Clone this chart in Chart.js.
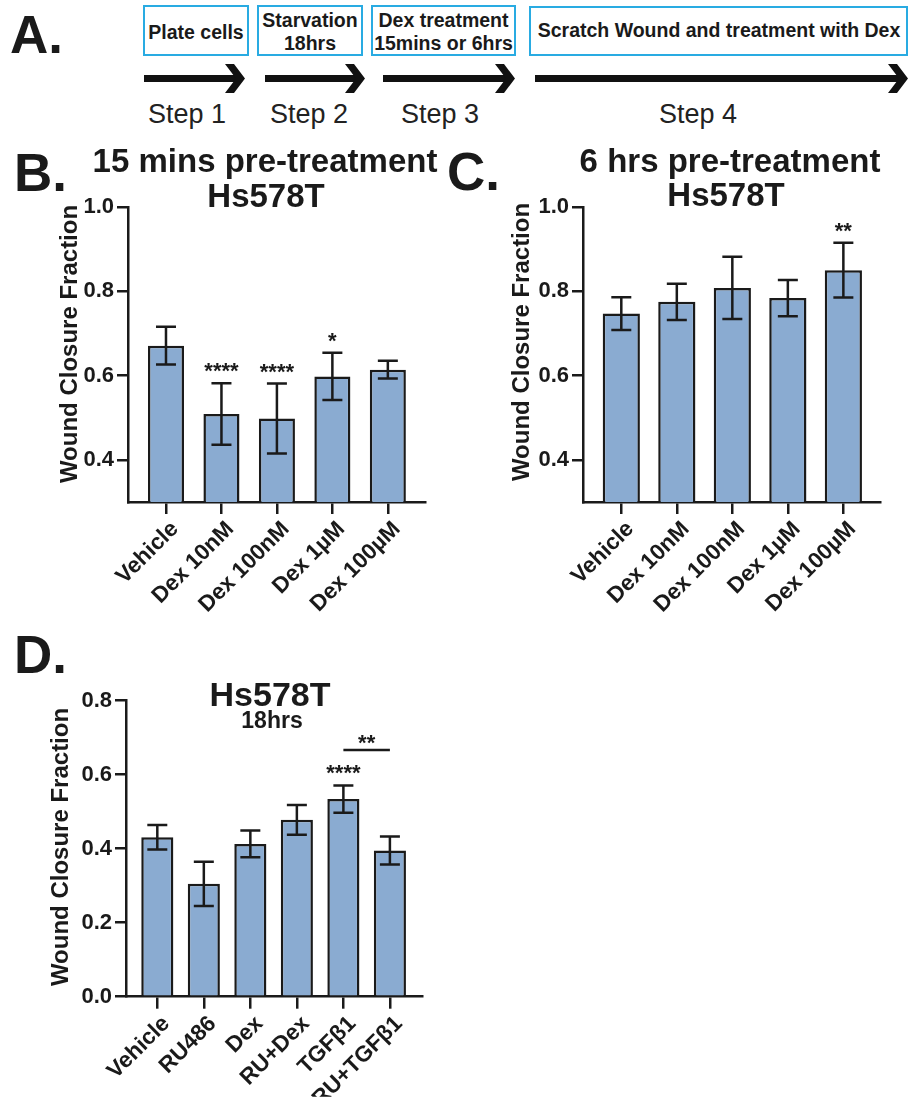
<!DOCTYPE html>
<html>
<head>
<meta charset="utf-8">
<script src="https://cdn.jsdelivr.net/npm/chart.js@4.4.1/dist/chart.umd.min.js"></script>
<style>
html,body{margin:0;padding:0;background:#fff;}
#page{position:relative;width:910px;height:1099px;overflow:hidden;background:#fff;font-family:'Liberation Sans',Arial,sans-serif;}
canvas{position:absolute;}
.plabel{position:absolute;font-weight:bold;font-size:53px;line-height:53px;color:#1a1a1a;z-index:5;}
svg{position:absolute;left:0;top:0;}
</style>
</head>
<body>
<div id="page">
<svg width="910" height="135" font-family="'Liberation Sans', Arial, sans-serif">
  <g fill="none" stroke="#29ABE2" stroke-width="2">
    <rect x="144" y="6" width="104" height="49"/>
    <rect x="258" y="6" width="104" height="49"/>
    <rect x="372" y="6" width="143" height="49"/>
    <rect x="530" y="7" width="377" height="48"/>
  </g>
  <g fill="#1a1a1a" font-weight="bold" font-size="19.5" text-anchor="middle">
    <text x="196" y="39">Plate cells</text>
    <text x="310" y="27">Starvation</text>
    <text x="310" y="50">18hrs</text>
    <text x="443.5" y="27">Dex treatment</text>
    <text x="443.5" y="50">15mins or 6hrs</text>
    <text x="719" y="37">Scratch Wound and treatment with Dex</text>
  </g>
  <g fill="#111">
    <rect x="144" y="75" width="92" height="7"/>
    <polygon points="225,64 234,64 245,78.5 234,93 225,93 236,78.5"/>
    <rect x="265" y="75" width="92" height="7"/>
    <polygon points="345,64 354,64 365,78.5 354,93 345,93 356,78.5"/>
    <rect x="383" y="75" width="124" height="7"/>
    <polygon points="495,64 504,64 515,78.5 504,93 495,93 506,78.5"/>
    <rect x="535" y="75" width="365" height="7"/>
    <polygon points="888,64 897,64 908,78.5 897,93 888,93 899,78.5"/>
  </g>
  <g fill="#222" font-size="27" text-anchor="middle">
    <text x="187" y="123">Step 1</text>
    <text x="309" y="123">Step 2</text>
    <text x="440" y="123">Step 3</text>
    <text x="698" y="123">Step 4</text>
  </g>
</svg>

<canvas id="cB" width="455" height="520" style="left:0px;top:130px"></canvas>
<canvas id="cC" width="455" height="520" style="left:455px;top:130px"></canvas>
<canvas id="cD" width="455" height="459" style="left:0px;top:640px"></canvas>

<div class="plabel" style="left:10px;top:8px">A.</div>
<div class="plabel" style="left:14px;top:146px">B.</div>
<div class="plabel" style="left:447px;top:145px">C.</div>
<div class="plabel" style="left:14px;top:628px">D.</div>
</div>

<script>
// ---------------- data ----------------
const labelsB = ['Vehicle', 'Dex 10nM', 'Dex 100nM', 'Dex 1µM', 'Dex 100µM'];
const meansB  = [0.671, 0.509, 0.498, 0.598, 0.614];
const errsB   = [0.045, 0.073, 0.083, 0.056, 0.021];
const sigB    = ['', '****', '****', '*', ''];
const yTicksB = [0.4, 0.6, 0.8, 1.0];

const labelsC = ['Vehicle', 'Dex 10nM', 'Dex 100nM', 'Dex 1µM', 'Dex 100µM'];
const meansC  = [0.747, 0.775, 0.808, 0.784, 0.850];
const errsC   = [0.039, 0.043, 0.074, 0.043, 0.065];
const sigC    = ['', '', '', '', '**'];
const yTicksC = [0.4, 0.6, 0.8, 1.0];

const labelsD = ['Vehicle', 'RU486', 'Dex', 'RU+Dex', 'TGFβ1', 'RU+TGFβ1'];
const meansD  = [0.431, 0.305, 0.413, 0.478, 0.534, 0.395];
const errsD   = [0.033, 0.060, 0.036, 0.040, 0.037, 0.038];
const sigD    = ['', '', '', '', '****', ''];
const yTicksD = [0.0, 0.2, 0.4, 0.6, 0.8];
const bracketD = { from: 4, to: 5, value: 0.667, text: '**' };

const yTitle = 'Wound Closure Fraction';

// ---------------- style ----------------
const INK = '#1a1a1a';
const BAR_FILL = '#8AABD1';
const FAMILY = "'Liberation Sans', Arial, sans-serif";
const CAP = 20;

function overlayPlugin(cfg) {
  return {
    id: 'overlay',
    afterDatasetsDraw(chart) {
      const ctx = chart.ctx;
      const meta = chart.getDatasetMeta(0);
      const ys = chart.scales.y;
      ctx.save();
      ctx.strokeStyle = INK;
      ctx.fillStyle = INK;
      ctx.lineWidth = 2.5;
      meta.data.forEach((bar, i) => {
        const x = bar.x;
        const m = cfg.means[i], e = cfg.errs[i];
        const yT = ys.getPixelForValue(m + e);
        const yB = ys.getPixelForValue(m - e);
        ctx.beginPath();
        ctx.moveTo(x, yT); ctx.lineTo(x, yB);
        ctx.moveTo(x - CAP / 2, yT); ctx.lineTo(x + CAP / 2, yT);
        ctx.moveTo(x - CAP / 2, yB); ctx.lineTo(x + CAP / 2, yB);
        ctx.stroke();
        if (cfg.sig[i]) {
          ctx.font = 'bold 22px ' + FAMILY;
          ctx.textAlign = 'center';
          ctx.textBaseline = 'alphabetic';
          ctx.fillText(cfg.sig[i], x, yT - 5);
        }
      });
      if (cfg.bracket) {
        const b = cfg.bracket;
        const x1 = meta.data[b.from].x, x2 = meta.data[b.to].x;
        const y = ys.getPixelForValue(b.value);
        ctx.beginPath();
        ctx.moveTo(x1, y); ctx.lineTo(x2, y);
        ctx.stroke();
        ctx.font = 'bold 22px ' + FAMILY;
        ctx.textAlign = 'center';
        ctx.textBaseline = 'alphabetic';
        ctx.fillText(b.text, (x1 + x2) / 2, y);
      }
      ctx.restore();
    },
    afterDraw(chart) {
      const ctx = chart.ctx;
      ctx.save();
      ctx.fillStyle = INK;
      ctx.textAlign = 'center';
      ctx.textBaseline = 'middle';
      cfg.titles.forEach(t => {
        ctx.font = 'bold ' + t.size + 'px ' + FAMILY;
        ctx.fillText(t.text, t.x, t.y);
      });
      // rotated y-axis title
      ctx.font = 'bold 24px ' + FAMILY;
      ctx.translate(cfg.yTitlePos.x, cfg.yTitlePos.y);
      ctx.rotate(-Math.PI / 2);
      ctx.fillText(yTitle, 0, 0);
      ctx.restore();
    }
  };
}

function makeChart(id, cfg) {
  const points = cfg.labels.map((l, i) => ({ x: i, y: cfg.means[i] }));
  return new Chart(document.getElementById(id), {
    type: 'bar',
    data: {
      datasets: [{
        data: points,
        backgroundColor: BAR_FILL,
        borderColor: INK,
        borderWidth: 2.5,
        borderSkipped: 'start',
        barPercentage: cfg.barPct,
        categoryPercentage: 1,
        clip: 0
      }]
    },
    options: {
      responsive: false,
      animation: false,
      devicePixelRatio: 1,
      layout: { padding: cfg.padding },
      plugins: { legend: { display: false }, tooltip: { enabled: false } },
      scales: {
        x: {
          type: 'linear',
          min: cfg.xMin, max: cfg.xMax,
          bounds: 'data',
          offset: false,
          z: 1,
          afterBuildTicks: ax => { ax.ticks = cfg.labels.map((_, i) => ({ value: i })); },
          afterFit: ax => { ax.height = cfg.xAxisH; },
          grid: { display: true, offset: false, drawOnChartArea: false, drawTicks: true, tickLength: 12, lineWidth: 2.5, tickWidth: 2.5, color: INK, tickColor: INK },
          border: { display: true, width: 2.5, color: INK },
          ticks: {
            autoSkip: false, minRotation: 45, maxRotation: 45, padding: 2, labelOffset: 9,
            color: INK, font: { family: FAMILY, weight: 'bold', size: 22.5 },
            callback: v => cfg.labels[Math.round(v)]
          }
        },
        y: {
          type: 'linear',
          min: cfg.yMin, max: cfg.yMax,
          bounds: 'data',
          z: 1,
          afterBuildTicks: ax => { ax.ticks = cfg.yTicks.map(v => ({ value: v })); },
          afterFit: ax => { ax.width = cfg.yAxisW; },
          grid: { display: true, drawOnChartArea: false, drawTicks: true, tickLength: 11, lineWidth: 2.5, tickWidth: 2.5, color: INK, tickColor: INK },
          border: { display: true, width: 2.5, color: INK },
          ticks: {
            padding: 3, color: INK,
            font: { family: FAMILY, weight: 'bold', size: 22 },
            callback: v => Number(v).toFixed(1)
          },
          title: { display: false }
        }
      }
    },
    plugins: [overlayPlugin(cfg)]
  });
}

makeChart('cB', {
  labels: labelsB, means: meansB, errs: errsB, sig: sigB, yTicks: yTicksB,
  yMin: 0.3, yMax: 1.0, xMin: -0.685, xMax: 4.67, barPct: 0.65,
  padding: { top: 77, right: 30, bottom: 18, left: 0 }, xAxisH: 130, yAxisW: 128,
  yTitlePos: { x: 70, y: 214 },
  titles: [
    { text: '15 mins pre-treatment', size: 33, x: 265, y: 33 },
    { text: 'Hs578T', size: 33, x: 266, y: 68 }
  ]
});

makeChart('cC', {
  labels: labelsC, means: meansC, errs: errsC, sig: sigC, yTicks: yTicksC,
  yMin: 0.3, yMax: 1.0, xMin: -0.69, xMax: 4.66, barPct: 0.67,
  padding: { top: 77, right: 30, bottom: 18, left: 0 }, xAxisH: 130, yAxisW: 128,
  yTitlePos: { x: 67, y: 212 },
  titles: [
    { text: '6 hrs pre-treatment', size: 33, x: 275, y: 33 },
    { text: 'Hs578T', size: 33, x: 271, y: 67 }
  ]
});

makeChart('cD', {
  labels: labelsD, means: meansD, errs: errsD, sig: sigD, yTicks: yTicksD, bracket: bracketD,
  yMin: 0.0, yMax: 0.8, xMin: -0.673, xMax: 5.69, barPct: 0.69,
  padding: { top: 60.7, right: 33, bottom: 2.3, left: 0 }, xAxisH: 100, yAxisW: 126,
  yTitlePos: { x: 61, y: 207 },
  titles: [
    { text: 'Hs578T', size: 34, x: 270, y: 57 },
    { text: '18hrs', size: 23, x: 272, y: 82 }
  ]
});
</script>
</body>
</html>
